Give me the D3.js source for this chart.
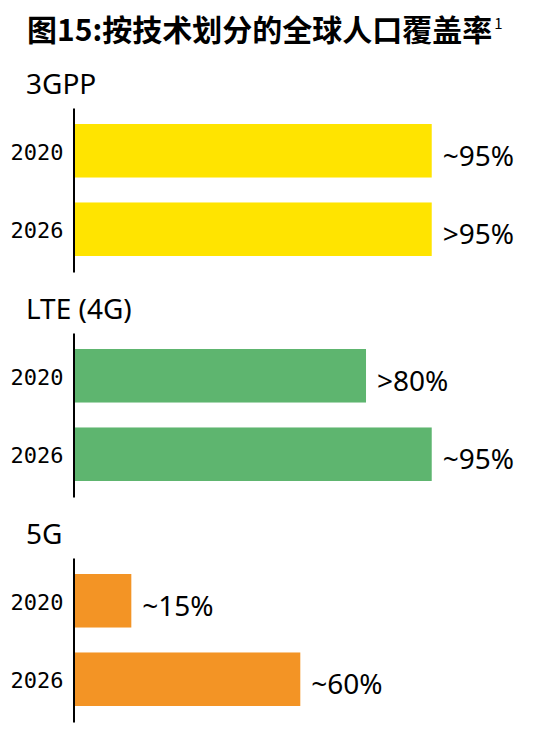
<!DOCTYPE html>
<html>
<head>
<meta charset="utf-8">
<script src="https://cdn.jsdelivr.net/npm/d3@7"></script>
<style>
body { margin: 0; background: #fff; }
</style>
</head>
<body>
<div id="graph"></div>
<script>
var groups = ["3GPP", "LTE (4G)", "5G"];
var years = ["2020", "2026"];
var values = [[95, 95], [77.5, 95], [15, 60]];
var valueLabels = [["~95%", ">95%"], [">80%", "~95%"], ["~15%", "~60%"]];
var colors = ["#ffe400", "#5eb56f", "#f39425"];
var title = "图15:按技术划分的全球人口覆盖率";
var footnote = "1";

var width = 536, height = 733;

var svg = d3.select("div#graph").append("svg")
	.attr("width", width)
	.attr("height", height);

// title with superscript footnote mark
var t = svg.append("text")
	.attr("x", 27)
	.attr("y", 41)
	.style("font-family", "'Noto Sans CJK SC'")
	.style("font-weight", "bold")
	.style("font-size", "30px")
	.attr("fill", "#000");
t.append("tspan").text(title);
t.append("tspan")
	.attr("dx", 2)
	.attr("dy", -12)
	.style("font-size", "15px")
	.style("font-weight", "normal")
	.text(footnote);

// scales
var xScale = d3.scaleLinear().domain([0, 100]).range([75, 450.5]);
var groupScale = d3.scaleBand().domain(groups).range([60, 735]);
var yearScale = d3.scaleBand().domain(years).range([0, 164])
	.paddingInner(0.318)
	.paddingOuter(0.204);

groups.forEach(function(name, i) {
	var g = svg.append("g")
		.attr("transform", "translate(0," + groupScale(name) + ")");

	// group heading
	g.append("text")
		.attr("x", 26)
		.attr("y", 34)
		.style("font-family", "'Noto Sans'")
		.style("font-size", "28px")
		.attr("fill", "#000")
		.text(name);

	// year axis
	var axis = g.append("g")
		.attr("transform", "translate(73.5,48)")
		.call(d3.axisLeft(yearScale).tickSize(0).tickPadding(10));
	axis.select(".domain").attr("stroke", "#000").attr("stroke-width", 2);
	axis.selectAll(".tick text")
		.attr("dy", "0.4em")
		.attr("fill", "#000")
		.style("font-family", "'DejaVu Sans Mono'")
		.style("font-size", "22px");

	var rows = years.map(function(y, j) {
		return {year: y, value: values[i][j], label: valueLabels[i][j]};
	});

	var plot = g.append("g").attr("transform", "translate(0,48)");

	plot.selectAll("rect").data(rows).enter().append("rect")
		.attr("x", xScale(0))
		.attr("y", function(d) { return yearScale(d.year); })
		.attr("width", function(d) { return xScale(d.value) - xScale(0); })
		.attr("height", yearScale.bandwidth())
		.attr("fill", colors[i]);

	plot.selectAll("text.val").data(rows).enter().append("text")
		.attr("class", "val")
		.attr("x", function(d) { return xScale(d.value) + 11; })
		.attr("y", function(d) { return yearScale(d.year) + yearScale.bandwidth() / 2 + 15; })
		.style("font-family", "'Noto Sans'")
		.style("font-size", "28px")
		.attr("fill", "#000")
		.text(function(d) { return d.label; });
});
</script>
</body>
</html>
